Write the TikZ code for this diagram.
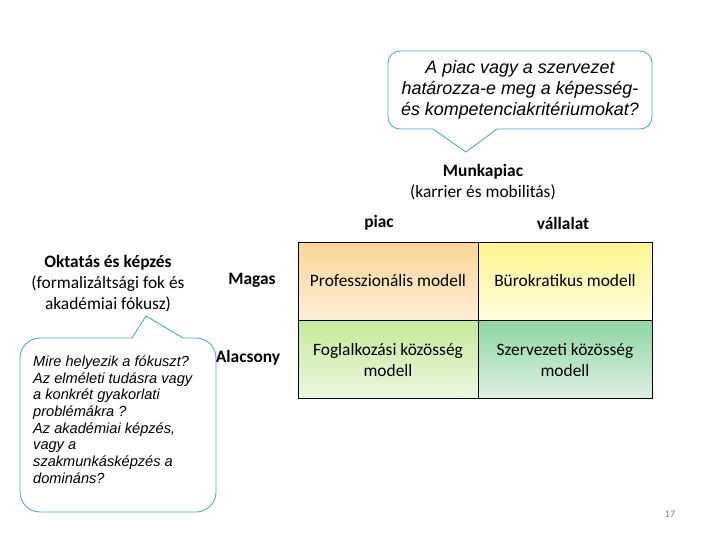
\documentclass[tikz,border=0pt]{standalone}
\usepackage{fontspec}
\setmainfont{Carlito}
\newfontfamily\arialf{Liberation Sans}
\usetikzlibrary{positioning}
\definecolor{callc}{RGB}{75,172,198}
\definecolor{tltop}{RGB}{251,214,150}
\definecolor{tlbot}{RGB}{253,238,215}
\definecolor{trtop}{RGB}{254,245,140}
\definecolor{trbot}{RGB}{255,253,222}
\definecolor{bltop}{RGB}{196,234,150}
\definecolor{blbot}{RGB}{238,247,225}
\definecolor{brtop}{RGB}{140,214,160}
\definecolor{brbot}{RGB}{222,240,228}
\tikzset{
  callout/.style={draw=callc, line width=0.9pt},
  gridline/.style={draw=black, line width=0.9pt},
  lbl/.style={font=\fontsize{17.4}{21}\selectfont, align=center, inner sep=0pt},
  blbl/.style={font=\fontsize{17.4}{21}\selectfont\bfseries, align=center, inner sep=0pt},
  ctext/.style={font=\arialf\itshape\fontsize{17.9}{21}\selectfont, align=center, inner sep=0pt},
  ltext/.style={font=\arialf\itshape\fontsize{14.6}{16.7}\selectfont, align=left, inner sep=0pt, anchor=north west},
}
\begin{document}
\begin{tikzpicture}[x=1pt,y=-1pt]
\useasboundingbox (0,0) rectangle (720,540);
% cells
\shade[top color=tltop, bottom color=tlbot] (298,242) rectangle (478,320);
\shade[top color=trtop, bottom color=trbot] (478,242) rectangle (652,320);
\shade[top color=bltop, bottom color=blbot] (298,320) rectangle (478,398);
\shade[top color=brtop, bottom color=brbot] (478,320) rectangle (652,398);
\draw[gridline] (298,242) rectangle (652,398);
\draw[gridline] (478,242) -- (478,398);
\draw[gridline] (298,320) -- (652,320);
\node[lbl] (c11) at (388,281) {Professzionális modell};
\node[lbl] (c12) at (565,281) {Bürokratikus modell};
\node[lbl] (c21) at (388,360) {Foglalkozási közösség\\modell};
\node[lbl] (c22) at (565,360) {Szervezeti közösség\\modell};
% labels
\node[lbl] (munka) at (483,182.5) {\textbf{Munkapiac}\\(karrier és mobilitás)};
\node[blbl] (piac) at (379,223) {piac};
\node[blbl] (vall) at (563,223) {vállalat};
\node[lbl] (okt) at (108,284) {\textbf{Oktatás és képzés}\\(formalizáltsági fok és\\akadémiai fókusz)};
\node[blbl] (magas) at (252,280) {Magas};
\node[blbl] (alacs) at (248,358) {Alacsony};
% top callout
\draw[callout, rounded corners=12pt] (433,129) -- (388,129) -- (388,51) -- (652,51) -- (652,129) -- (497,129);
\draw[callout] (497,129) -- (466,152) -- (433,129);
\node[ctext] (q1) at (520,90) {A piac vagy a szervezet\\határozza-e meg a képesség-\\és kompetenciakritériumokat?};
% left callout
\draw[callout, rounded corners=20pt] (132,338) -- (20,338) -- (20,512) -- (216,512) -- (216,338) -- (183,338);
\draw[callout] (183,338) -- (146,316) -- (132,338);
\node[ltext] (q2) at (33,355.5) {Mire helyezik a fókuszt?\\Az elméleti tudásra vagy\\a konkrét gyakorlati\\problémákra ?\\Az akadémiai képzés,\\vagy a\\szakmunkásképzés a\\domináns?};
% page number
\node[font=\fontsize{10}{12}\selectfont, text=gray, inner sep=0pt] (pg) at (670,514) {17};
\end{tikzpicture}
\end{document}
